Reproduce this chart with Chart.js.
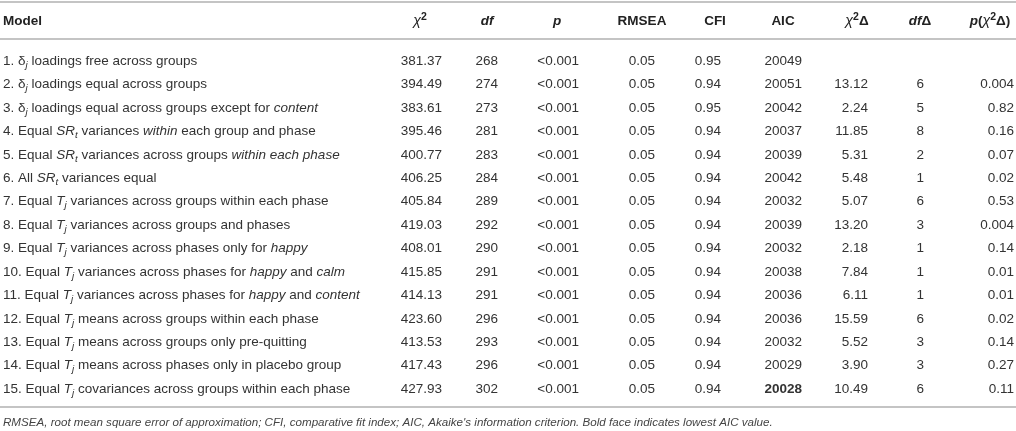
<!DOCTYPE html>
<html>
<head>
<meta charset="utf-8">
<script src="https://cdn.jsdelivr.net/npm/chart.js@4/dist/chart.umd.min.js"></script>
<style>
  html, body { margin: 0; padding: 0; background: #fff; }
  #wrap { width: 1016px; height: 431px; position: relative; }
</style>
</head>
<body>
<div id="wrap"><canvas id="tableChart"></canvas></div>
<script>
// markup: *..* italic, _x italic subscript, ^x superscript
const models = [
    'δ_j loadings free across groups',
    'δ_j loadings equal across groups',
    'δ_j loadings equal across groups except for *content*',
    'Equal *SR*_t variances *within* each group and phase',
    'Equal *SR*_t variances across groups *within each phase*',
    'All *SR*_t variances equal',
    'Equal *T*_j variances across groups within each phase',
    'Equal *T*_j variances across groups and phases',
    'Equal *T*_j variances across phases only for *happy*',
    'Equal *T*_j variances across phases for *happy* and *calm*',
    'Equal *T*_j variances across phases for *happy* and *content*',
    'Equal *T*_j means across groups within each phase',
    'Equal *T*_j means across groups only pre-quitting',
    'Equal *T*_j means across phases only in placebo group',
    'Equal *T*_j covariances across groups within each phase'
];
const headers = ['Model', 'χ^2', '*df*', '*p*', 'RMSEA', 'CFI', 'AIC', 'χ^2Δ', '*df*Δ', '*p*(χ^2Δ)'];

const chiSq = [381.37, 394.49, 383.61, 395.46, 400.77, 406.25, 405.84, 419.03, 408.01, 415.85, 414.13, 423.60, 413.53, 417.43, 427.93];
const dfs = [268, 274, 273, 281, 283, 284, 289, 292, 290, 291, 291, 296, 293, 296, 302];
const pValues = ['<0.001', '<0.001', '<0.001', '<0.001', '<0.001', '<0.001', '<0.001', '<0.001', '<0.001', '<0.001', '<0.001', '<0.001', '<0.001', '<0.001', '<0.001'];
const rmsea = [0.05, 0.05, 0.05, 0.05, 0.05, 0.05, 0.05, 0.05, 0.05, 0.05, 0.05, 0.05, 0.05, 0.05, 0.05];
const cfi = [0.95, 0.94, 0.95, 0.94, 0.94, 0.94, 0.94, 0.94, 0.94, 0.94, 0.94, 0.94, 0.94, 0.94, 0.94];
const aic = [20049, 20051, 20042, 20037, 20039, 20042, 20032, 20039, 20032, 20038, 20036, 20036, 20032, 20029, 20028];
const chiSqDelta = [null, 13.12, 2.24, 11.85, 5.31, 5.48, 5.07, 13.20, 2.18, 7.84, 6.11, 15.59, 5.52, 3.90, 10.49];
const dfDelta = [null, 6, 5, 8, 2, 1, 6, 3, 1, 1, 1, 6, 3, 3, 6];
const pDelta = [null, '0.004', '0.82', '0.16', '0.07', '0.02', '0.53', '0.004', '0.14', '0.01', '0.01', '0.02', '0.14', '0.27', '0.11'];

const footnote = 'RMSEA, root mean square error of approximation; CFI, comparative fit index; AIC, Akaike\'s information criterion. Bold face indicates lowest AIC value.';

const lowestAic = Math.min(...aic);
const fix2 = v => v.toFixed(2);
const asText = v => String(v);

// column layout: x of right edge for values, x of header centre
const columns = [
    { values: chiSq, fmt: fix2, right: 442, head: 420 },
    { values: dfs, fmt: asText, right: 498, head: 487 },
    { values: pValues, fmt: asText, right: 579, head: 557 },
    { values: rmsea, fmt: fix2, right: 655, head: 642 },
    { values: cfi, fmt: fix2, right: 721, head: 715 },
    { values: aic, fmt: asText, right: 802, head: 783, bold: v => v === lowestAic },
    { values: chiSqDelta, fmt: fix2, right: 868, head: 857 },
    { values: dfDelta, fmt: asText, right: 924, head: 920 },
    { values: pDelta, fmt: asText, right: 1014, head: 990 }
];
const MODEL_X = 3;

const FONT = '"Liberation Sans", Arial, Helvetica, sans-serif';
const BODY_SIZE = 13.5;

function parseRich(str, bold) {
    const segs = [];
    let italic = false, buf = '';
    const flush = () => { if (buf) segs.push({ t: buf, italic, bold, shift: 0, scale: 1 }); buf = ''; };
    for (let i = 0; i < str.length; i++) {
        const c = str[i];
        if (c === '*') { flush(); italic = !italic; }
        else if (c === '_') { flush(); segs.push({ t: str[++i], italic: true, bold, shift: 3, scale: 0.72 }); }
        else if (c === '^') { flush(); segs.push({ t: str[++i], italic: false, bold, shift: -5, scale: 0.78 }); }
        else if (c === 'χ') { flush(); segs.push({ t: c, italic: true, bold: false, shift: 0, scale: 1.05 }); }
        else buf += c;
    }
    flush();
    return segs;
}

function segFont(s, size) {
    return (s.italic ? 'italic ' : '') + (s.bold ? 'bold ' : '') + (size * s.scale).toFixed(2) + 'px ' + FONT;
}

function drawRich(ctx, str, x, baseline, align, size, bold) {
    const segs = parseRich(str, bold);
    let width = 0;
    segs.forEach(s => { ctx.font = segFont(s, size); s.w = ctx.measureText(s.t).width; width += s.w; });
    let cx = align === 'right' ? x - width : align === 'center' ? x - width / 2 : x;
    ctx.textAlign = 'left';
    ctx.textBaseline = 'alphabetic';
    segs.forEach(s => {
        ctx.font = segFont(s, size);
        ctx.fillText(s.t, cx, baseline + s.shift);
        cx += s.w;
    });
}

const tablePlugin = {
    id: 'tableText',
    afterDatasetsDraw(chart) {
        const ctx = chart.ctx;
        const xs = chart.scales.x, ys = chart.scales.y;
        ctx.save();

        // horizontal rules
        ctx.strokeStyle = '#c4c4c4';
        ctx.lineWidth = 2;
        [-1.475, 0.104, 15.81].forEach(v => {
            const py = Math.round(ys.getPixelForValue(v));
            ctx.beginPath();
            ctx.moveTo(xs.left, py);
            ctx.lineTo(xs.right, py);
            ctx.stroke();
        });

        // header row
        ctx.fillStyle = '#222';
        const hy = ys.getPixelForValue(-0.707) + 5;
        drawRich(ctx, headers[0], xs.getPixelForValue(MODEL_X), hy, 'left', 13.5, true);
        columns.forEach((col, c) => {
            drawRich(ctx, headers[c + 1], xs.getPixelForValue(col.head), hy, 'center', 13.5, true);
        });

        // body cells, placed at the dataset points
        ctx.fillStyle = '#333';
        chart.data.datasets.forEach((ds, di) => {
            const meta = chart.getDatasetMeta(di);
            meta.data.forEach((pt, i) => {
                const raw = ds.data[i];
                drawRich(ctx, raw.text, pt.x, pt.y + 4.8, ds.align, BODY_SIZE, !!raw.bold);
            });
        });

        // footnote
        ctx.fillStyle = '#444';
        ctx.font = 'italic 11.6px ' + FONT;
        ctx.textAlign = 'left';
        ctx.textBaseline = 'alphabetic';
        ctx.fillText(footnote, xs.getPixelForValue(MODEL_X), ys.getPixelForValue(16.45) + 4);
        ctx.restore();
    }
};

const datasets = [{
    label: 'Model',
    align: 'left',
    data: models.map((m, i) => ({ x: MODEL_X, y: i + 1, text: (i + 1) + '. ' + m }))
}];
columns.forEach((col, c) => {
    const pts = [];
    col.values.forEach((v, i) => {
        if (v === null) return;
        pts.push({ x: col.right, y: i + 1, text: col.fmt(v), bold: col.bold ? col.bold(v) : false });
    });
    datasets.push({ label: headers[c + 1], align: 'right', data: pts });
});
datasets.forEach(ds => { ds.pointRadius = 0; ds.showLine = false; });

new Chart(document.getElementById('tableChart'), {
    type: 'scatter',
    data: { datasets },
    options: {
        responsive: true,
        maintainAspectRatio: false,
        animation: false,
        events: [],
        layout: { padding: 0 },
        plugins: { legend: { display: false }, tooltip: { enabled: false } },
        scales: {
            x: { type: 'linear', min: 0, max: 1016, display: false },
            y: { type: 'linear', min: -1.5608, max: 16.835, reverse: true, display: false }
        }
    },
    plugins: [tablePlugin]
});
</script>
</body>
</html>
